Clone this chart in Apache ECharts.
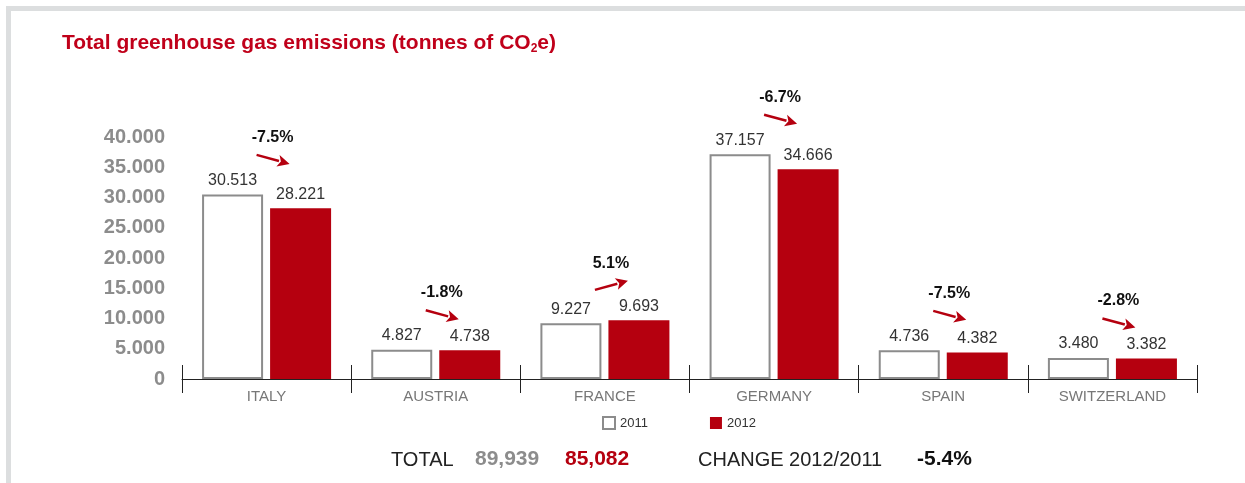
<!DOCTYPE html>
<html>
<head>
<meta charset="utf-8">
<script src="https://cdn.jsdelivr.net/npm/echarts@6/dist/echarts.min.js"></script>
<style>
  html, body { margin: 0; padding: 0; background: #ffffff; }
  #chart { width: 1245px; height: 483px; }
</style>
</head>
<body>
<div id="chart"></div>
<script>
// Emissions by country, tonnes of CO2e
const countries = ['ITALY', 'AUSTRIA', 'FRANCE', 'GERMANY', 'SPAIN', 'SWITZERLAND'];
const emissions2011 = [30513, 4827, 9227, 37157, 4736, 3480];
const emissions2012 = [28221, 4738, 9693, 34666, 4382, 3382];
// Change 2012 vs 2011, in percent
const changePct = [-7.5, -1.8, 5.1, -6.7, -7.5, -2.8];
const total2011 = 89939;
const total2012 = 85082;
const yTicks = [0, 5000, 10000, 15000, 20000, 25000, 30000, 35000, 40000];

const RED = '#b5000f';
const GREY = '#8c8c8c';
const FONT = '"Liberation Sans", Arial, Helvetica, sans-serif';

const dotThousands = n => String(n).replace(/\B(?=(\d{3})+(?!\d))/g, '.');
const commaThousands = n => String(n).replace(/\B(?=(\d{3})+(?!\d))/g, ',');

const changeData = countries.map((c, i) => [i, Math.max(emissions2011[i], emissions2012[i]), changePct[i]]);
const totalChange = ((total2012 / total2011 - 1) * 100).toFixed(1);

const chart = echarts.init(document.getElementById('chart'), null, { renderer: 'canvas' });

// Percentage change with a red arrow, placed above the taller bar of each pair
function renderChange(params, api) {
  const idx = api.value(0);
  const top = api.coord([idx, api.value(1)]);
  const pct = api.value(2);
  const cx = top[0] + 6;
  const ty = top[1] - 57;
  const ay = top[1] - 35;
  const dir = pct < 0 ? 1 : -1;
  const x0 = cx - 16, y0 = ay - 4.5 * dir;
  const x1 = cx + 17, y1 = ay + 4.5 * dir;
  const ang = Math.atan2(y1 - y0, x1 - x0);
  const hl = 12, hw = 6;
  const bx = x1 - hl * Math.cos(ang), by = y1 - hl * Math.sin(ang);
  const px = -Math.sin(ang) * hw, py = Math.cos(ang) * hw;
  return {
    type: 'group',
    children: [
      {
        type: 'text',
        style: {
          x: cx, y: ty, text: pct.toFixed(1) + '%',
          align: 'center', verticalAlign: 'middle',
          font: 'bold 16px ' + FONT, fill: '#111111'
        }
      },
      {
        type: 'line',
        shape: { x1: x0, y1: y0, x2: bx + 1 * Math.cos(ang), y2: by + 1 * Math.sin(ang) },
        style: { stroke: RED, lineWidth: 2.5 }
      },
      {
        type: 'polygon',
        shape: { points: [[x1, y1], [bx + px, by + py], [bx + 3 * Math.cos(ang), by + 3 * Math.sin(ang)], [bx - px, by - py]] },
        style: { fill: RED }
      }
    ]
  };
}

const option = {
  animation: false,
  backgroundColor: '#ffffff',
  textStyle: { fontFamily: FONT },
  title: {
    left: 62,
    top: 31,
    padding: 0,
    text: '{a|Total greenhouse gas emissions (tonnes of CO}{s|2}{a|e)}',
    textStyle: {
      rich: {
        a: { fontFamily: FONT, fontWeight: 'bold', fontSize: 21, color: '#c0001a' },
        s: { fontFamily: FONT, fontWeight: 'bold', fontSize: 12, color: '#c0001a', padding: [12, 0, 0, 0] }
      }
    }
  },
  legend: {
    left: 597,
    top: 411,
    itemWidth: 12,
    itemHeight: 12,
    itemGap: 62,
    icon: 'rect',
    textStyle: { fontFamily: FONT, fontSize: 13, color: '#333333' },
    data: ['2011', '2012']
  },
  grid: { left: 182, right: 48, top: 137, bottom: 104 },
  xAxis: [
    {
      type: 'category',
      data: countries,
      axisLine: { lineStyle: { color: '#222222', width: 1 } },
      axisTick: { show: true, length: 14, lineStyle: { color: '#222222' } },
      axisLabel: { fontFamily: FONT, fontSize: 15, color: '#777777', margin: 10 }
    },
    {
      type: 'category',
      data: countries,
      position: 'bottom',
      axisLine: { show: false },
      axisTick: { show: true, inside: true, length: 14, lineStyle: { color: '#222222' } },
      axisLabel: { show: false }
    }
  ],
  yAxis: {
    type: 'value',
    min: 0,
    max: yTicks[yTicks.length - 1],
    interval: yTicks[1] - yTicks[0],
    splitLine: { show: false },
    axisLine: { show: false },
    axisTick: { show: false },
    axisLabel: {
      margin: 17,
      fontFamily: FONT,
      fontWeight: 'bold',
      fontSize: 20,
      color: GREY,
      formatter: v => dotThousands(v)
    }
  },
  series: [
    {
      name: '2011',
      type: 'bar',
      data: emissions2011,
      barWidth: 61,
      barGap: '11.5%',
      itemStyle: { color: '#ffffff', borderColor: GREY, borderWidth: 2 },
      label: {
        show: true, position: 'top', distance: 6,
        fontFamily: FONT, fontSize: 16, color: '#333333',
        formatter: p => dotThousands(p.value)
      }
    },
    {
      name: '2012',
      type: 'bar',
      data: emissions2012,
      barWidth: 61,
      itemStyle: { color: RED },
      label: {
        show: true, position: 'top', distance: 6,
        fontFamily: FONT, fontSize: 16, color: '#333333',
        formatter: p => dotThousands(p.value)
      }
    },
    {
      name: 'change',
      type: 'custom',
      data: changeData,
      renderItem: renderChange,
      encode: { x: 0, y: 1 },
      z: 5,
      silent: true
    }
  ],
  graphic: [
    { type: 'rect', shape: { x: 6, y: 6, width: 1239, height: 5 }, style: { fill: '#dcdedf' } },
    { type: 'rect', shape: { x: 6, y: 6, width: 5, height: 477 }, style: { fill: '#dcdedf' } },
    { type: 'text', left: 391, top: 450, style: { text: 'TOTAL', font: '20px ' + FONT, fill: '#222222' } },
    { type: 'text', left: 475, top: 449, style: { text: commaThousands(total2011), font: 'bold 21px ' + FONT, fill: GREY } },
    { type: 'text', left: 565, top: 449, style: { text: commaThousands(total2012), font: 'bold 21px ' + FONT, fill: RED } },
    { type: 'text', left: 698, top: 450, style: { text: 'CHANGE 2012/2011', font: '20px ' + FONT, fill: '#222222' } },
    { type: 'text', left: 917, top: 449, style: { text: totalChange + '%', font: 'bold 21px ' + FONT, fill: '#111111' } }
  ]
};

chart.setOption(option);
</script>
</body>
</html>
